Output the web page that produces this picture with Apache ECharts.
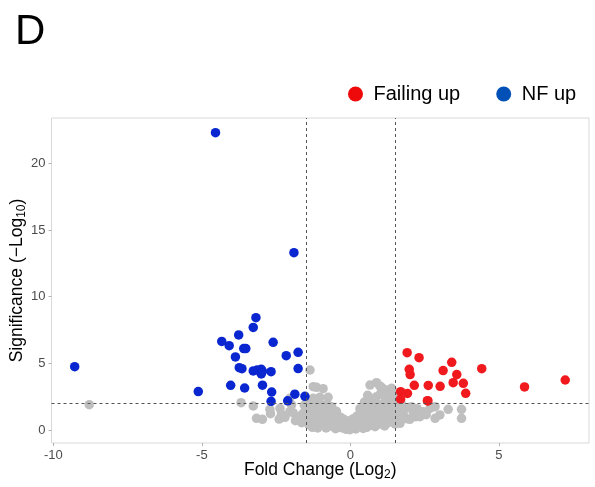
<!DOCTYPE html>
<html><head><meta charset="utf-8">
<script src="https://cdn.jsdelivr.net/npm/echarts@6/dist/echarts.min.js"></script>
<style>html,body{margin:0;padding:0;background:#fff}#c{width:595px;height:487px}</style>
</head><body><div id="c"></div>
<script>
// ---- data (log2 fold change, -log10 significance) ----
const failingUp = [
  [1.91,5.80],[2.31,5.42],[3.41,5.08],[1.98,4.55],[2.01,4.16],[3.12,4.46],[4.42,4.60],
  [3.58,4.16],[3.46,3.55],[3.80,3.50],[2.15,3.35],[2.62,3.34],[3.02,3.28],[3.88,2.75],
  [1.69,2.87],[1.92,2.74],[1.69,2.31],[2.59,2.20],[2.61,2.18],[5.86,3.23],[7.23,3.75]
];
const nfUp = [
  [-4.54,22.30],[-1.90,13.30],[-9.28,4.75],[-5.12,2.88],[-3.18,8.42],[-3.27,7.69],
  [-4.33,6.64],[-4.08,6.32],[-3.76,7.13],[-3.59,6.11],[-3.52,6.11],[-2.60,6.58],
  [-3.87,5.48],[-2.16,5.57],[-1.76,5.83],[-3.74,4.67],[-3.65,4.60],[-3.27,4.43],
  [-3.14,4.50],[-3.00,4.55],[-3.00,4.20],[-2.96,4.40],[-2.67,4.37],[-1.76,4.61],
  [-4.03,3.35],[-3.56,3.15],[-2.96,3.36],[-2.65,2.85],[-1.87,2.69],[-1.53,2.53],
  [-2.67,2.15],[-2.11,2.19]
];
const notSignificant = [
  [-8.79,1.90],
  [-3.68,2.05],[-3.27,1.80],[-3.16,0.88],[-2.96,0.80],[-2.71,1.55],[-2.69,1.22],[-2.40,0.82],
  [-2.37,1.63],[-2.32,1.20],[-2.20,0.95],[-2.04,1.37],[-2.04,2.38],[-1.98,1.88],[-1.93,1.30],
  [-1.85,0.70],[-1.70,1.05],[-1.64,0.55],[-1.59,1.25],[-1.55,1.85],
  [-1.36,4.50],[-1.25,3.25],[-1.14,3.20],[-0.92,3.10],[-1.03,2.45],[-0.75,2.45],[-1.25,2.38],
  [-1.48,2.05],[-1.45,1.50],[-1.42,0.95],[-1.40,0.40],[-1.35,1.75],[-1.33,1.20],[-1.30,0.70],
  [-1.28,0.20],[-1.22,1.95],[-1.20,1.45],[-1.18,0.95],[-1.15,0.50],[-1.10,0.15],[-1.08,2.10],
  [-1.05,1.65],[-1.02,1.15],[-1.00,0.75],[-0.97,0.35],[-0.93,1.85],[-0.90,1.35],[-0.88,0.95],
  [-0.85,0.55],[-0.82,0.15],[-0.78,1.95],[-0.75,1.55],[-0.72,1.10],[-0.70,0.65],[-0.67,0.30],
  [-0.63,1.75],[-0.60,1.30],[-0.57,0.85],[-0.54,0.45],[-0.50,0.10],[-0.47,1.40],[-0.45,1.00],
  [-0.42,0.60],[-0.38,0.25],
  [-0.33,0.95],[-0.30,0.55],[-0.27,0.15],[-0.22,0.80],[-0.18,0.40],[-0.14,0.05],[-0.10,0.70],
  [-0.06,0.30],[-0.02,0.02],[0.02,0.55],[0.06,0.20],[0.10,0.85],[0.14,0.40],[0.18,0.08],
  [0.22,1.05],[0.25,0.60],[0.28,0.25],[0.32,1.60],[0.34,1.30],[0.37,0.90],[0.40,0.45],[0.43,0.12],
  [0.47,2.10],[0.48,1.50],[0.50,1.00],[0.52,0.55],[0.55,0.20],[0.58,2.60],[0.60,1.90],[0.62,1.30],
  [0.65,0.80],[0.66,3.37],[0.68,0.35],[0.72,2.30],[0.74,1.60],[0.77,1.10],[0.80,0.60],[0.83,0.25],
  [0.88,3.55],[0.88,2.50],[0.90,2.00],[0.92,1.40],[0.95,0.90],[0.98,0.45],[0.99,3.30],[1.02,2.75],
  [1.05,3.20],[1.06,1.75],[1.08,1.20],[1.10,2.63],[1.12,0.70],[1.15,0.30],[1.18,2.20],[1.20,1.55],
  [1.22,3.00],[1.24,1.00],[1.27,0.55],[1.30,2.45],[1.32,1.85],[1.35,1.30],[1.39,3.13],[1.40,0.80],
  [1.42,2.80],[1.45,2.10],[1.48,1.55],[1.50,0.45],[1.52,1.05],[1.55,2.40],[1.58,1.80],[1.62,0.75],
  [1.65,1.35],
  [1.67,0.50],[1.72,1.95],[1.78,1.13],[1.85,1.60],[1.90,0.85],[2.00,0.80],[2.05,1.75],[2.11,1.37],
  [2.20,1.00],[2.25,1.60],[2.34,1.00],[2.45,1.37],[2.55,1.15],[2.68,1.63],[2.85,0.88],[2.85,1.75],
  [3.01,1.13],[3.29,1.55],[3.74,1.55],[3.74,0.88]
];
const foldThresholds = [-1.5, 1.5];
const sigThresholds = [2];
const xTicks = [-10, -5, 0, 5];
const yTicks = [0, 5, 10, 15, 20];
const legendNames = ['Failing up', 'NF up'];

const FONT = '"Liberation Sans", Arial, Helvetica, sans-serif';
const chart = echarts.init(document.getElementById('c'), null, {renderer: 'canvas'});

const lines = foldThresholds.map(v => ({xAxis: v})).concat(sigThresholds.map(v => ({yAxis: v})));

chart.setOption({
  animation: false,
  backgroundColor: '#fff',
  textStyle: {fontFamily: FONT},
  title: {
    text: 'D', left: 10, top: 6,
    textStyle: {fontSize: 42, fontWeight: 'normal', color: '#000', fontFamily: FONT}
  },
  legend: {
    data: [
      {name: legendNames[0], itemStyle: {color: '#ee0a0a'}},
      {name: legendNames[1], itemStyle: {color: '#0050b8'}}
    ],
    icon: 'circle', left: 343, top: 79,
    itemWidth: 26, itemHeight: 15, itemGap: 36,
    textStyle: {fontSize: 20, color: '#000', fontFamily: FONT},
    selectedMode: false
  },
  grid: {
    left: 51.5, right: 6, top: 118, bottom: 44,
    show: true, borderColor: '#d9d9d9', borderWidth: 1,
    outerBoundsMode: 'none'
  },
  xAxis: {
    type: 'value', min: -10.06, max: 8.03,
    splitLine: {show: false},
    axisLine: {show: false, onZero: false},
    axisTick: {show: true, length: 3, lineStyle: {color: '#b3b3b3'}, customValues: xTicks},
    axisLabel: {customValues: xTicks, color: '#4d4d4d', fontSize: 13, margin: 6, fontFamily: FONT},
    name: 'Fold Change (Log{s|2})', nameLocation: 'middle', nameGap: 17, nameMoveOverlap: false,
    nameTextStyle: {fontSize: 17.5, color: '#000', fontFamily: FONT, verticalAlign: 'top',
      rich: {s: {fontSize: 12, fontFamily: FONT, color: '#000', verticalAlign: 'top', padding: [9, 0, 0, 0]}}}
  },
  yAxis: {
    type: 'value', min: -0.975, max: 23.4,
    splitLine: {show: false},
    axisLine: {show: false, onZero: false},
    axisTick: {show: true, length: 3, lineStyle: {color: '#b3b3b3'}, customValues: yTicks},
    axisLabel: {customValues: yTicks, color: '#4d4d4d', fontSize: 13, margin: 6, fontFamily: FONT},
    name: 'Significance (\u2212Log{s|10})', nameLocation: 'middle', nameGap: 24, nameMoveOverlap: false,
    nameTextStyle: {fontSize: 17.5, color: '#000', fontFamily: FONT,
      rich: {s: {fontSize: 12, fontFamily: FONT, color: '#000', verticalAlign: 'top', padding: [9, 0, 0, 0]}}}
  },
  series: [
    {
      name: 'not significant', type: 'scatter', data: notSignificant,
      symbolSize: 9.5, itemStyle: {color: '#bfbfbf', opacity: 1}, z: 2, silent: true
    },
    {
      name: 'thresholds', type: 'scatter', data: [], z: 3,
      markLine: {
        silent: true, symbol: ['none', 'none'], label: {show: false},
        lineStyle: {color: '#555', width: 1, type: [3, 3]},
        data: lines
      }
    },
    {
      name: legendNames[0], type: 'scatter', data: failingUp,
      symbolSize: 9.5, itemStyle: {color: '#f01a1e', opacity: 1}, z: 4
    },
    {
      name: legendNames[1], type: 'scatter', data: nfUp,
      symbolSize: 9.5, itemStyle: {color: '#0a26d0', opacity: 1}, z: 4
    }
  ]
});
</script>
</body></html>
